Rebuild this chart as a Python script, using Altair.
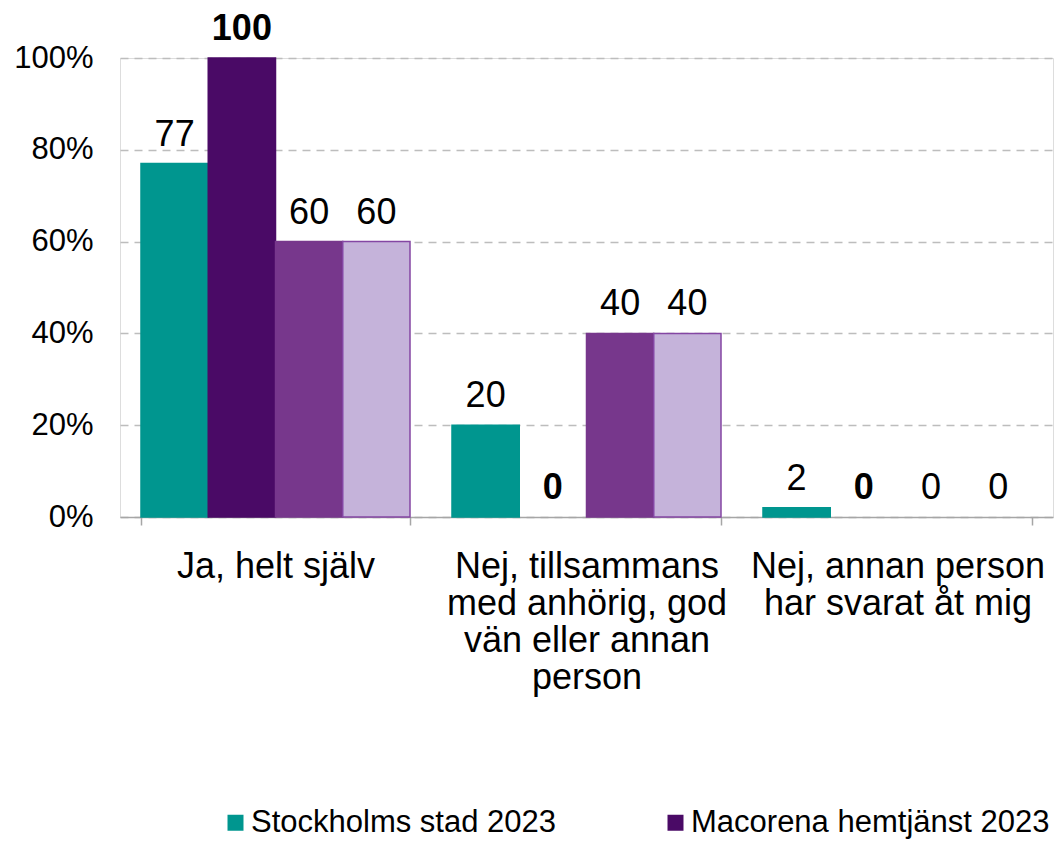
import json
import altair as alt
import pandas as pd

categories = [
    "Ja, helt själv",
    "Nej, tillsammans med anhörig, god vän eller annan person",
    "Nej, annan person har svarat åt mig",
]
category_lines = [
    ["Ja, helt själv"],
    ["Nej, tillsammans", "med anhörig, god", "vän eller annan", "person"],
    ["Nej, annan person", "har svarat åt mig"],
]
series = [
    "Stockholms stad 2023",
    "Macorena hemtjänst 2023",
    "Macorena hemtjänst 2022",
    "Macorena hemtjänst 2021",
]
stockholm_2023 = [77, 20, 2]
macorena_2023 = [100, 0, 0]
macorena_2022 = [60, 40, 0]
macorena_2021 = [60, 40, 0]
legend_series = ["Stockholms stad 2023", "Macorena hemtjänst 2023"]
bold_series = "Macorena hemtjänst 2023"

fills = ["#00968F", "#4A0A66", "#77378C", "#C5B3DA"]
strokes = ["#00968F", "#4A0A66", "#77378C", "#8446A3"]

rows = []
for s, vals in zip(series, [stockholm_2023, macorena_2023, macorena_2022, macorena_2021]):
    for c, v in zip(categories, vals):
        rows.append({"category": c, "series": s, "value": v})
df = pd.DataFrame(rows)

label_expr = ""
for c, lines in zip(categories, category_lines):
    label_expr += f"datum.value === {json.dumps(c, ensure_ascii=False)} ? {json.dumps(lines, ensure_ascii=False)} : "
label_expr += "datum.label"

FONT = "Liberation Sans"

x_enc = alt.X(
    "category:N",
    sort=categories,
    scale=alt.Scale(paddingInner=0.135, paddingOuter=0.0675),
    axis=alt.Axis(
        title=None,
        labelAngle=0,
        labelExpr=label_expr,
        labelFontSize=36,
        labelLineHeight=37,
        labelPadding=24,
        labelLimit=0,
        labelColor="black",
        labelFont=FONT,
        tickBand="extent",
        tickSize=8,
        tickWidth=1.5,
        tickColor="#A6A6A6",
        domainColor="#A6A6A6",
        domainWidth=1.5,
        grid=False,
    ),
)
xoff_enc = alt.XOffset("series:N", sort=series, scale=alt.Scale(paddingInner=0, paddingOuter=0))
y_enc = alt.Y(
    "value:Q",
    scale=alt.Scale(domain=[0, 100]),
    axis=alt.Axis(
        title=None,
        values=[0, 20, 40, 60, 80, 100],
        labelExpr="datum.value + '%'",
        domain=False,
        ticks=False,
        labelFontSize=31,
        labelPadding=27,
        labelColor="black",
        labelFont=FONT,
        gridDash=[8, 6],
        gridColor="#BDBDBD",
        gridWidth=1.5,
    ),
)

base = alt.Chart(df)

bars = base.mark_bar().encode(
    x=x_enc,
    xOffset=xoff_enc,
    y=y_enc,
    color=alt.Color(
        "series:N",
        scale=alt.Scale(domain=series, range=fills),
        legend=alt.Legend(
            values=legend_series,
            title=None,
            orient="none",
            legendX=100,
            legendY=749,
            direction="horizontal",
            symbolType="square",
            symbolSize=256,
            symbolStrokeWidth=0,
            labelFontSize=31,
            labelFont=FONT,
            labelColor="black",
            labelOffset=0,
            labelLimit=0,
            columnPadding=103,
        ),
    ),
    stroke=alt.Stroke("series:N", scale=alt.Scale(domain=series, range=strokes), legend=None),
    strokeWidth=alt.condition(alt.datum.value > 0, alt.value(1.5), alt.value(0)),
)

labels_normal = base.transform_filter(alt.datum.series != bold_series).mark_text(
    baseline="alphabetic", dy=-18, fontSize=36, font=FONT, color="black"
).encode(x=x_enc, xOffset=xoff_enc, y=y_enc, text=alt.Text("value:Q"))

labels_bold = base.transform_filter(alt.datum.series == bold_series).mark_text(
    baseline="alphabetic", dy=-18, fontSize=36, font=FONT, fontWeight="bold", color="black"
).encode(x=x_enc, xOffset=xoff_enc, y=y_enc, text=alt.Text("value:Q"))

chart = (
    alt.layer(bars, labels_normal, labels_bold)
    .properties(
        width=933,
        height=459,
        autosize="none",
        padding={"left": 112, "top": 50, "right": 3, "bottom": 322},
    )
    .configure_view(stroke=None)
    .configure(font=FONT)
)

chart.save("out.html", embed_options={"renderer": "svg", "actions": False})
